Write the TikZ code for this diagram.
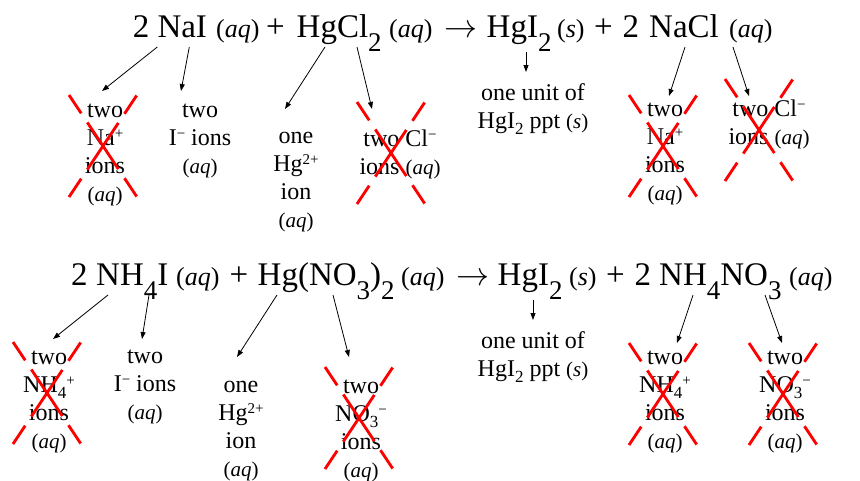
\RequirePackage{fix-cm}
\documentclass[tikz,border=0pt]{standalone}
\usepackage{fontspec}
\setmainfont{Liberation Serif}
\usetikzlibrary{arrows.meta}

\newcommand\eqfont{\fontsize{33}{38}\selectfont}
\newcommand\lblfont{\fontsize{24}{28}\selectfont}
\newcommand\lstrut{\rule{0pt}{19.6pt}}
\newcommand\aqtxt{{\fontsize{26}{30}\selectfont(\textit{aq})}}
\newcommand\stxt{{\fontsize{26}{30}\selectfont(\textit{s})}}
\newcommand\lblaq{{\fontsize{21}{28}\selectfont(\textit{aq})}}
\newcommand\lbls{{\fontsize{21}{28}\selectfont(\textit{s})}}
\newcommand\eqsub[1]{\raisebox{-14pt}{\fontsize{27}{27}\selectfont #1}}
\newcommand\lsub[1]{\raisebox{-6pt}{\fontsize{17}{17}\selectfont #1}}
\newcommand\lsup[1]{\raisebox{7pt}{\fontsize{15}{15}\selectfont #1}}

\tikzset{
  xout/.pic={
    \draw[red, line width=2.8pt, dash pattern={on 22pt off 11pt on 56pt off 11pt on 22pt}]
      (-34,-51) -- (34,51) (-34,51) -- (34,-51);
  }
}

\begin{document}
\begin{tikzpicture}[x=1pt, y=-1pt,
  eq/.style={anchor=base west, inner sep=0pt, font=\eqfont},
  lbl/.style={anchor=north, align=center, inner sep=0pt, font=\lblfont},
  ptr/.style={-{Triangle[length=7pt,width=5pt]}, line width=0.8pt}]
  \useasboundingbox (0,0) rectangle (860,480);

  % Top equation
  \node[eq] (t2a) at (132.7,37) {2};
  \node[eq] (tnai) at (157.3,37) {NaI};
  \node[eq] (taq1) at (216,37) {\aqtxt};
  \node[eq] (tpl1) at (266,37) {+};
  \node[eq] (thgcl) at (296.5,37) {HgCl\eqsub{2}};
  \node[eq] (taq2) at (389,37) {\aqtxt};
  \node[eq] (tarr) at (444,37) {$\rightarrow$};
  \node[eq] (thgi) at (486.5,37) {HgI\eqsub{2}};
  \node[eq] (ts) at (557,37) {\stxt};
  \node[eq] (tpl2) at (594,37) {+};
  \node[eq] (t2b) at (622.5,37) {2};
  \node[eq] (tnacl) at (649,37) {NaCl};
  \node[eq] (taq3) at (729,37) {\aqtxt};

  % Top labels
  \node[lbl] (lna1) at (105,97.4) {\lstrut two\\Na\lsup{+}\\ions\\\lblaq};
  \node[lbl] (li1) at (200,97.4) {\lstrut two\\I\lsup{−} ions\\\lblaq};
  \node[lbl] (lhg1) at (296,123.4) {\lstrut one\\Hg\lsup{2+}\\ion\\\lblaq};
  \node[lbl] (lcl1) at (400,126.4) {\lstrut two Cl\lsup{−}\\ions \lblaq};
  \node[lbl] (lppt1) at (533,80.4) {\lstrut one unit of\\HgI\lsub{2} ppt \lbls};
  \node[lbl] (lna2) at (665,96.4) {\lstrut two\\Na\lsup{+}\\ions\\\lblaq};
  \node[lbl] (lcl2) at (769,96.4) {\lstrut two Cl\lsup{−}\\ions \lblaq};

  % Top arrows
  \draw[ptr] ([shift={(0,10)}]tnai.base west) -- ([shift={(-3,-6.4)}]lna1.north);
  \draw[ptr] ([shift={(32,10)}]tnai.base west) -- ([shift={(-19,-6.4)}]li1.north);
  \draw[ptr] ([shift={(28.5,10)}]thgcl.base west) -- ([shift={(-11,-14.4)}]lhg1.north);
  \draw[ptr] ([shift={(60.5,10)}]thgcl.base west) -- ([shift={(-28,-17.4)}]lcl1.north);
  \draw[ptr] ([shift={(39.5,15)}]thgi.base west) -- ([shift={(-7,-8.4)}]lppt1.north);
  \draw[ptr] ([shift={(36,10)}]tnacl.base west) -- ([shift={(4,-0.4)}]lna2.north);
  \draw[ptr] ([shift={(84,10)}]tnacl.base west) -- ([shift={(-20,-0.4)}]lcl2.north);

  % Bottom equation
  \node[eq] (b2a) at (71,285) {2};
  \node[eq] (bnhi) at (96,285) {NH\eqsub{4}I};
  \node[eq] (baq1) at (176,285) {\aqtxt};
  \node[eq] (bpl1) at (229.5,285) {+};
  \node[eq] (bhgno) at (257.5,285) {Hg(NO\eqsub{3})\eqsub{2}};
  \node[eq] (baq2) at (401,285) {\aqtxt};
  \node[eq] (barr) at (456,285) {$\rightarrow$};
  \node[eq] (bhgi) at (497.5,285) {HgI\eqsub{2}};
  \node[eq] (bs) at (569,285) {\stxt};
  \node[eq] (bpl2) at (606,285) {+};
  \node[eq] (b2b) at (634.5,285) {2};
  \node[eq] (bnhno) at (659,285) {NH\eqsub{4}NO\eqsub{3}};
  \node[eq] (baq3) at (789,285) {\aqtxt};

  % Bottom labels
  \node[lbl] (lnh1) at (49,344.4) {\lstrut two\\NH\lsub{4}\lsup{+}\\ions\\\lblaq};
  \node[lbl] (li2) at (145,343.4) {\lstrut two\\I\lsup{−} ions\\\lblaq};
  \node[lbl] (lhg2) at (241,372.4) {\lstrut one\\Hg\lsup{2+}\\ion\\\lblaq};
  \node[lbl] (lno1) at (361,373.4) {\lstrut two\\NO\lsub{3}\lsup{−}\\ions\\\lblaq};
  \node[lbl] (lppt2) at (533,328.4) {\lstrut one unit of\\HgI\lsub{2} ppt \lbls};
  \node[lbl] (lnh2) at (665,344.4) {\lstrut two\\NH\lsub{4}\lsup{+}\\ions\\\lblaq};
  \node[lbl] (lno2) at (785,344.4) {\lstrut two\\NO\lsub{3}\lsup{−}\\ions\\\lblaq};

  % Bottom arrows
  \draw[ptr] ([shift={(12,10)}]bnhi.base west) -- ([shift={(4,-5.4)}]lnh1.north);
  \draw[ptr] ([shift={(53,10)}]bnhi.base west) -- ([shift={(-3,-4.4)}]li2.north);
  \draw[ptr] ([shift={(19.5,10)}]bhgno.base west) -- ([shift={(-4,-15.4)}]lhg2.north);
  \draw[ptr] ([shift={(75.5,10)}]bhgno.base west) -- ([shift={(-12,-16.4)}]lno1.north);
  \draw[ptr] ([shift={(35.5,15)}]bhgi.base west) -- ([shift={(0,-8.4)}]lppt2.north);
  \draw[ptr] ([shift={(34,10)}]bnhno.base west) -- ([shift={(12,-1.4)}]lnh2.north);
  \draw[ptr] ([shift={(106,10)}]bnhno.base west) -- ([shift={(-3,-1.4)}]lno2.north);

  % Crossed-out spectator ions
  \pic at ([shift={(-2,48.6)}]lna1.north) {xout};
  \pic at ([shift={(-9,26.6)}]lcl1.north) {xout};
  \pic at ([shift={(-2,49.6)}]lna2.north) {xout};
  \pic at ([shift={(-10,33.6)}]lcl2.north) {xout};
  \pic at ([shift={(-2,48.6)}]lnh1.north) {xout};
  \pic at ([shift={(-2,44.6)}]lno1.north) {xout};
  \pic at ([shift={(-2,49.6)}]lnh2.north) {xout};
  \pic at ([shift={(-2,49.6)}]lno2.north) {xout};
\end{tikzpicture}
\end{document}
